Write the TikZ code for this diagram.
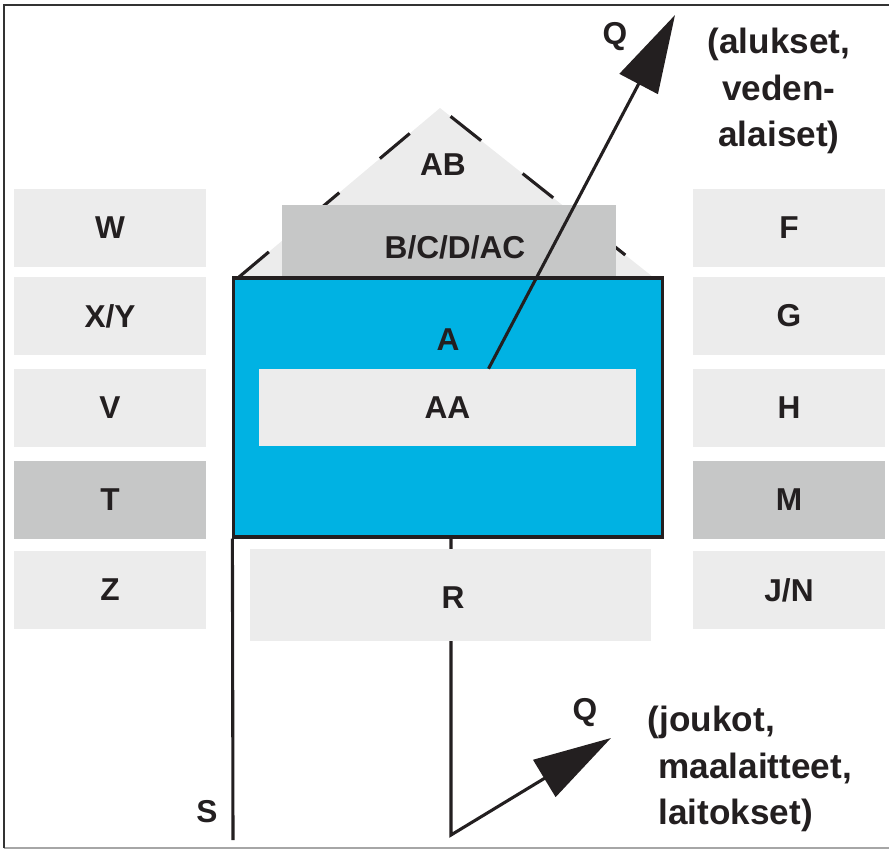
\documentclass[tikz,border=0pt]{standalone}
\usepackage{fontspec}
\setmainfont{Liberation Sans}
\usepackage{xcolor}
\usepackage{tikz}
\usetikzlibrary{positioning, arrows.meta}
\definecolor{skyblue}{HTML}{00B2E3}
\definecolor{palegray}{HTML}{ECECEC}
\definecolor{midgray}{HTML}{C6C7C7}
\definecolor{inkblack}{HTML}{231F20}

\begin{document}
\begin{tikzpicture}[x=0.025cm, y=-0.025cm,
  font=\fontsize{22.5}{33}\selectfont\bfseries, text=inkblack,
  sidebox/.style={fill=palegray, minimum width=4.8cm, minimum height=1.95cm, inner sep=0pt},
  darkbox/.style={sidebox, fill=midgray},
  link/.style={draw=inkblack, line width=2.2pt},
  bigtip/.style={-{Triangle[length=1.95cm, width=1.07cm]}},
  note/.style={font=\fontsize{25}{33}\selectfont\bfseries}]
  \useasboundingbox (0,0) rectangle (889,850);
  % frame
  \draw[gray!70, line width=0.8pt] (4,848) -- (889,848);
  \draw[black!80, line width=1.6pt] (4,848) -- (4,5) -- (889,5);

  % left column
  \node[sidebox] (w) at (110,228) {W};
  \node[sidebox] (xy) at (110,316) {X/Y};
  \node[sidebox] (v) at (110,408) {V};
  \node[darkbox] (t) at (110,500) {T};
  \node[sidebox] (z) at (110,590) {Z};
  % right column
  \node[sidebox] (f) at (789,228) {F};
  \node[sidebox] (g) at (789,316) {G};
  \node[sidebox] (h) at (789,408) {H};
  \node[darkbox] (m) at (789,500) {M};
  \node[sidebox] (jn) at (789,590) {J/N};

  % roof
  \fill[palegray] (239,277) -- (440,108) -- (653,277) -- cycle;
  \draw[inkblack, line width=2.2pt, dash pattern=on 0.975cm off 1.325cm]
    (239,277) -- (440,108) -- (653,277);
  \node (ab) at (443,165) {AB};
  \node[darkbox, minimum width=8.35cm, minimum height=1.8cm] (bcd) at (449,241) {};
  \node (bcdtext) at (455,247) {B/C/D/AC};

  % hull
  \node[fill=skyblue, draw=inkblack, line width=2.2pt, minimum width=10.7cm,
    minimum height=6.475cm, inner sep=0pt] (hull) at (448,407.5) {};
  \node (a) at (448,340) {A};
  \node[sidebox, minimum width=9.425cm, minimum height=1.925cm] (aa) at (447.5,407.5) {AA};

  % lines below
  \coordinate (sfoot) at (233,840);
  \coordinate (rfoot) at (451,835);
  \coordinate (qlow) at (611,738);
  \draw[link] (hull.south west) -- (sfoot);
  \draw[link, bigtip] (hull.south -| rfoot) -- (rfoot) -- (qlow);
  \node[sidebox, minimum width=10.025cm, minimum height=2.3cm] (r) at (450.5,595) {};
  \node (rtext) at (453,598) {R};
  \node (s) at (207,812) {S};

  % upward arrow
  \coordinate (qhigh) at (675,15);
  \draw[link, bigtip] ([xshift=1.025cm]aa.north) -- (qhigh);

  \node (qtop) at (615,37) {Q};
  \node (qbot) at (585,713) {Q};
  \node[note, align=center] (sea) at (779,91) {(alukset,\\veden-\\alaiset)};
  \node[note, align=left, anchor=west] (land) at (643,769)
    {(joukot,\\\hspace*{0.3em}maalaitteet,\\\hspace*{0.3em}laitokset)};
\end{tikzpicture}
\end{document}
